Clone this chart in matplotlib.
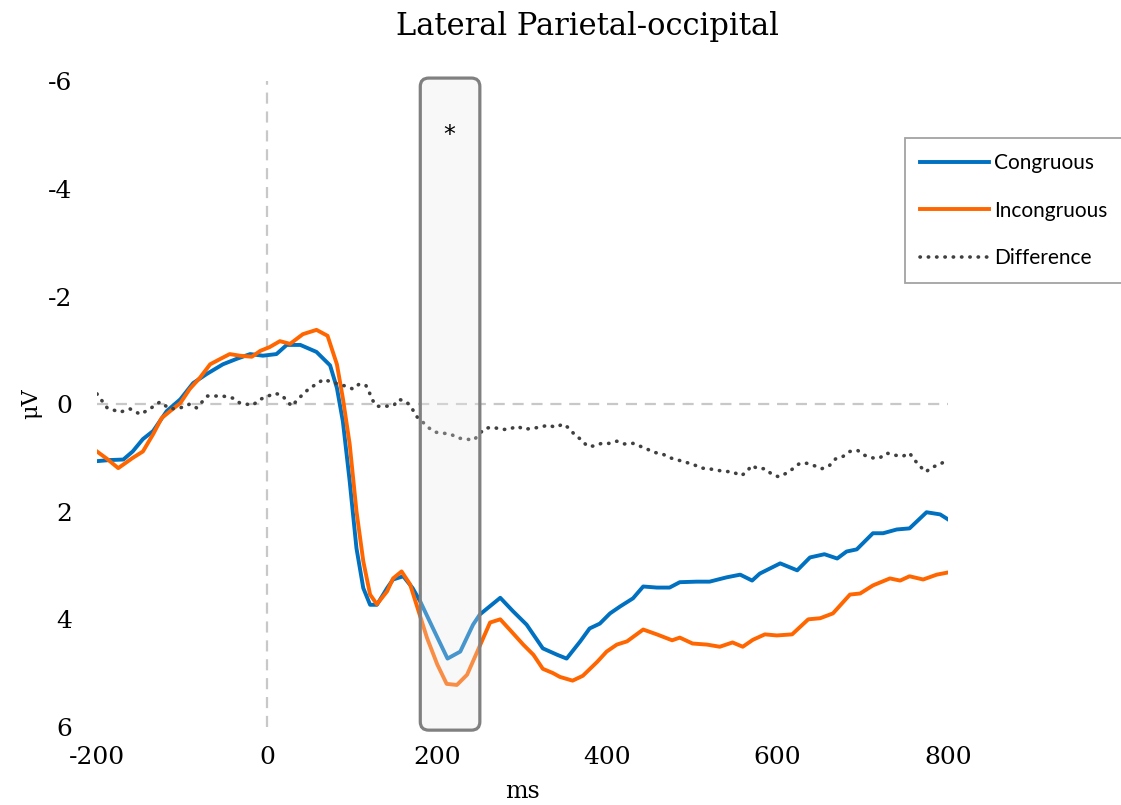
import matplotlib
matplotlib.use("Agg")
import matplotlib.pyplot as plt
from matplotlib.patches import FancyBboxPatch
from matplotlib.transforms import blended_transform_factory

plt.rcParams["axes.unicode_minus"] = False

# Grand-average ERP waveforms, lateral parietal-occipital sites (negative up)
t_cong = [-200, -185, -169, -158, -146, -134, -118, -102, -87, -71, -52, -36, -20, -5, 11, 23, 39,
          58, 74, 82, 89, 97, 105, 113, 121, 129, 141, 148, 160, 171, 180, 195, 212, 227, 242, 250,
          274, 289, 305, 324, 341, 352, 368, 379, 391, 403, 415, 430, 442, 458, 473, 485, 505, 520,
          540, 556, 570, 579, 603, 623, 638, 655, 670, 681, 693, 712, 724, 740, 755, 775, 791, 800]
v_cong = [1.06, 1.04, 1.03, 0.88, 0.65, 0.5, 0.13, -0.09, -0.39, -0.56, -0.74, -0.84, -0.93, -0.9,
          -0.93, -1.1, -1.1, -0.97, -0.72, -0.3, 0.32, 1.43, 2.68, 3.42, 3.73, 3.73, 3.42, 3.26, 3.2,
          3.42, 3.67, 4.17, 4.73, 4.6, 4.1, 3.91, 3.6, 3.85, 4.1, 4.54, 4.66, 4.73, 4.41, 4.17, 4.08,
          3.89, 3.76, 3.61, 3.39, 3.41, 3.41, 3.31, 3.3, 3.3, 3.22, 3.17, 3.28, 3.15, 2.96, 3.09,
          2.85, 2.79, 2.87, 2.74, 2.7, 2.4, 2.4, 2.33, 2.31, 2.01, 2.05, 2.14]

t_incong = [-200, -188, -175, -158, -146, -134, -124, -114, -102, -91, -79, -67, -55, -44, -32, -18,
            -8, 3, 15, 27, 42, 58, 71, 82, 89, 97, 105, 113, 121, 129, 141, 148, 158, 168, 177, 188,
            200, 211, 223, 235, 247, 262, 274, 285, 301, 313, 324, 336, 344, 359, 371, 388, 399, 411,
            423, 442, 458, 476, 485, 500, 517, 532, 547, 559, 571, 585, 599, 617, 636, 650, 665, 685,
            697, 712, 732, 744, 755, 771, 787, 800]
v_incong = [0.88, 1.02, 1.19, 1.0, 0.88, 0.56, 0.26, 0.13, -0.02, -0.28, -0.49, -0.74, -0.84, -0.93,
            -0.9, -0.88, -0.99, -1.06, -1.17, -1.12, -1.3, -1.38, -1.27, -0.74, -0.11, 0.74, 1.99,
            2.92, 3.54, 3.72, 3.48, 3.24, 3.11, 3.35, 3.8, 4.35, 4.84, 5.2, 5.22, 5.03, 4.6, 4.06,
            4.0, 4.19, 4.47, 4.66, 4.92, 5.0, 5.07, 5.14, 5.05, 4.79, 4.6, 4.47, 4.41, 4.19, 4.28,
            4.39, 4.34, 4.45, 4.47, 4.51, 4.43, 4.51, 4.38, 4.28, 4.3, 4.28, 4.0, 3.98, 3.89, 3.54,
            3.52, 3.37, 3.24, 3.28, 3.2, 3.26, 3.17, 3.13]

t_diff = [-200, -188, -173, -161, -149, -138, -126, -114, -102, -91, -83, -70, -52, -40, -32, -17, -8,
          9, 17, 29, 36, 50, 58, 66, 76, 91, 101, 108, 116, 120, 124, 129, 140, 149, 155, 164, 170,
          175, 182, 189, 197, 207, 216, 224, 234, 243, 249, 256, 265, 276, 284, 294, 302, 311, 321,
          330, 339, 348, 355, 362, 370, 376, 384, 393, 402, 411, 420, 430, 438, 447, 456, 465, 474,
          483, 492, 502, 511, 519, 529, 538, 547, 557, 564, 569, 577, 585, 593, 601, 611, 618, 626,
          634, 644, 652, 661, 668, 677, 685, 694, 702, 712, 720, 728, 738, 747, 755, 761, 767, 774,
          782, 791, 800]
v_diff = [-0.19, 0.07, 0.15, 0.09, 0.19, 0.09, -0.04, 0.09, 0.07, 0.0, 0.07, -0.15, -0.15, -0.11,
          -0.02, 0.02, -0.09, -0.2, -0.17, 0.04, -0.09, -0.3, -0.37, -0.46, -0.41, -0.34, -0.28,
          -0.37, -0.35, -0.22, -0.07, 0.04, 0.04, 0.02, -0.09, -0.04, 0.07, 0.22, 0.32, 0.43, 0.52,
          0.54, 0.56, 0.63, 0.65, 0.67, 0.56, 0.45, 0.43, 0.47, 0.47, 0.41, 0.47, 0.45, 0.43, 0.39,
          0.43, 0.37, 0.45, 0.58, 0.67, 0.78, 0.78, 0.73, 0.73, 0.69, 0.74, 0.73, 0.78, 0.84, 0.9,
          0.93, 1.0, 1.04, 1.08, 1.13, 1.19, 1.2, 1.23, 1.25, 1.26, 1.33, 1.26, 1.14, 1.2, 1.2, 1.3,
          1.35, 1.28, 1.2, 1.1, 1.1, 1.15, 1.2, 1.14, 1.02, 0.97, 0.88, 0.86, 0.95, 1.0, 1.0, 0.91,
          0.95, 0.97, 0.91, 1.04, 1.15, 1.26, 1.17, 1.12, 1.02]

# significant time window
win_start, win_end = 180, 250

serif = "DejaVu Serif"
fig = plt.figure(figsize=(11.21, 8.05), dpi=100)
ax = fig.add_axes([0.0865, 0.097, 0.759, 0.802])

ax.axhline(0, color="#c8c8c8", lw=1.6, ls=(0, (5, 3.5)), zorder=1)
ax.axvline(0, color="#c8c8c8", lw=1.6, ls=(0, (5, 3.5)), zorder=1)

ax.plot(t_cong, v_cong, color="#0070C0", lw=2.8, label="Congruous", zorder=3)
ax.plot(t_incong, v_incong, color="#FF6600", lw=2.8, label="Incongruous", zorder=3)
ax.plot(t_diff, v_diff, color="#404040", lw=2.6, ls=(0, (0.1, 2.2)),
        dash_capstyle="round", label="Difference", zorder=3)

# window box: x in ms, y in axes fraction, slightly taller than the axes
trans = blended_transform_factory(ax.transData, ax.transAxes)
box = FancyBboxPatch((win_start, -0.005), win_end - win_start, 1.01,
                     boxstyle="round,pad=0,rounding_size=10", mutation_aspect=0.0013,
                     transform=trans, facecolor=(0.92, 0.92, 0.92, 0.3),
                     edgecolor="#808080", lw=2.3, clip_on=False, zorder=4)
ax.add_patch(box)
ax.text(214, -5.0, "*", ha="center", va="center", fontsize=17, zorder=5)

ax.set_xlim(-200, 800)
ax.set_ylim(6, -6)
ax.set_xticks([-200, 0, 200, 400, 600, 800])
ax.set_yticks([-6, -4, -2, 0, 2, 4, 6])
for s in ax.spines.values():
    s.set_visible(False)
ax.tick_params(length=0, labelsize=18)
ax.tick_params(axis="x", pad=14)
ax.tick_params(axis="y", pad=18)
for lab in ax.get_xticklabels() + ax.get_yticklabels():
    lab.set_fontfamily(serif)
ax.set_xlabel("ms", fontfamily=serif, fontsize=17, labelpad=8)
ax.set_ylabel("μV", fontfamily=serif, fontsize=16, labelpad=4)

fig.text(587 / 1121, 1 - 27 / 805, "Lateral Parietal-occipital", ha="center", va="center",
         fontfamily=serif, fontsize=22)

leg = fig.legend(loc="upper left", bbox_to_anchor=(905 / 1121, 1 - 138 / 805),
                 frameon=True, fancybox=False, prop={"family": "Lato", "size": 15},
                 handlelength=3.3, handletextpad=0.25, labelspacing=1.33, borderpad=0.72,
                 borderaxespad=0)
leg.get_frame().set_edgecolor("#8c8c8c")
leg.get_frame().set_linewidth(1.3)

fig.savefig("out.png", dpi=100)
